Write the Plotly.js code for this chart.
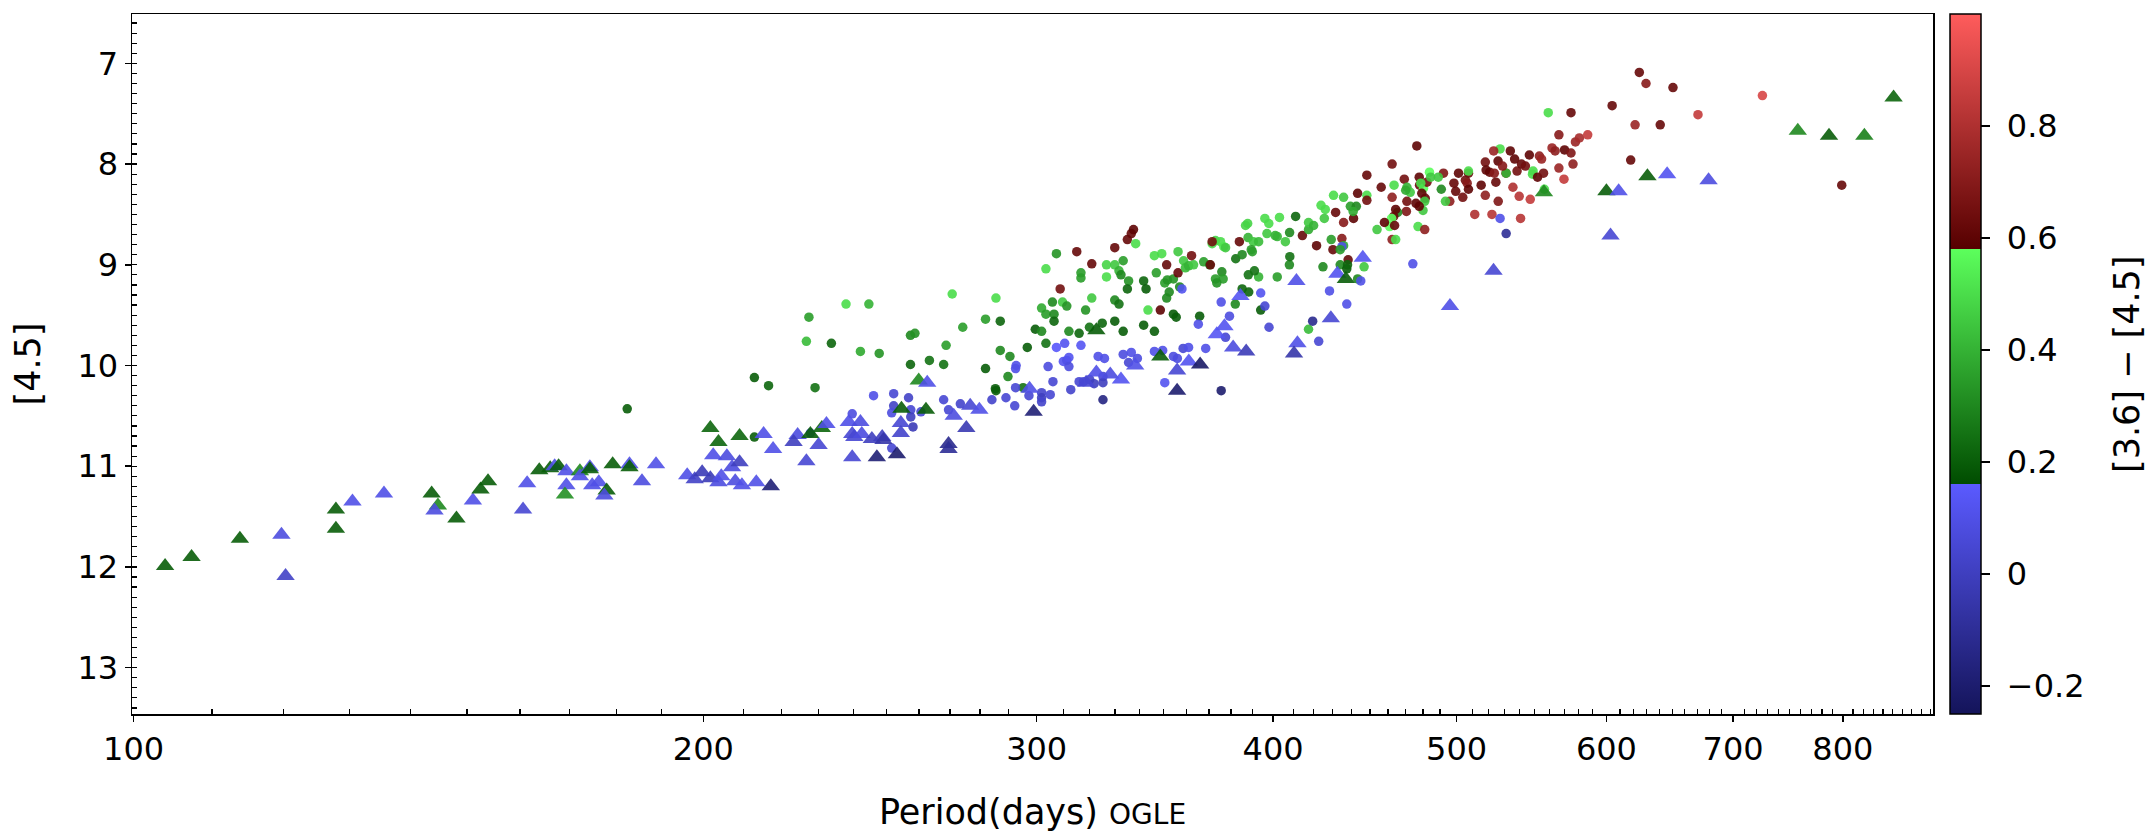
<!DOCTYPE html>
<html>
<head>
<meta charset="utf-8">
<script src="https://cdn.plot.ly/plotly-3.0.1.min.js"></script>
<style>
  html, body { margin: 0; padding: 0; background: #ffffff; }
  #chart { width: 2153px; height: 832px; }
</style>
</head>
<body>
<div id="chart"></div>
<script>
// Stars observed as circles: OGLE period (days), [4.5] magnitude, [3.6]-[4.5] colour
const periodCircle = [
  182.3, 212.8, 227.8, 239.7, 246.0, 252.1, 252.1, 251.5, 251.5,
  237.9, 244.6, 227.4, 226.7, 233.7, 242.1, 247.7, 212.8, 216.5, 229.1,
  270.7, 285.5, 281.9, 287.0, 274.2, 257.3, 258.7, 268.7, 257.3, 263.3,
  267.9, 287.0, 290.4, 296.6, 299.5, 301.8, 301.8, 303.4, 306.4, 306.4,
  305.8, 309.6, 311.2, 303.4, 307.3, 315.0, 308.7, 320.8, 303.4, 312.0,
  315.9, 316.6, 316.6, 320.8, 318.4, 319.9, 324.9, 326.6, 329.9, 326.6,
  331.6, 332.4, 333.3, 329.9, 335.0, 336.6, 337.5, 338.4, 335.5, 335.0,
  329.9, 331.6, 329.9, 333.3, 341.7, 342.7, 343.5, 348.7, 341.7, 346.2,
  347.0, 346.2, 349.3, 351.4, 350.6, 352.5, 351.4, 354.3, 355.5, 354.3,
  351.7, 356.3, 356.3, 281.9, 285.3, 285.5, 289.7, 295.1,
  256.7, 257.4, 257.4, 258.1, 260.6, 267.9, 269.5, 273.4, 284.1, 289.0,
  292.1, 292.4, 292.6, 292.4, 297.2, 301.8, 301.8, 301.8, 305.0, 304.2,
  306.0, 307.3, 310.4, 309.9, 311.2, 312.0, 312.0, 316.6, 312.7, 315.9,
  317.6, 320.0, 321.7, 325.2, 325.2, 325.8, 323.3, 325.2, 333.3, 335.5,
  336.6, 339.1, 346.2, 349.7, 350.6, 354.3, 356.0,
  358.7, 359.5, 360.9, 363.1, 362.2, 357.0, 358.0, 365.8, 365.2, 367.6,
  370.3, 370.6, 371.4, 372.9, 375.2, 376.7, 377.5, 371.4, 372.9, 375.8,
  376.4, 373.5, 375.5, 377.5, 379.3, 358.5, 360.9, 368.5, 375.5, 382.2,
  385.2, 387.8, 386.8, 383.9, 388.0, 390.5, 393.0, 389.5, 390.0, 396.0,
  397.9, 403.1, 397.0, 401.0, 402.0, 411.1, 408.1, 406.0, 414.5, 417.6,
  417.6, 420.2, 424.0, 426.2, 430.5, 435.8, 425.7, 431.6, 435.8, 434.9,
  441.1, 443.3, 421.7, 430.2, 429.3, 435.8, 438.2, 434.0, 437.5, 425.0,
  408.0, 408.2, 402.0, 393.0, 388.1, 391.0, 394.0, 394.0, 396.0, 398.0,
  382.0, 385.2, 388.3, 417.6, 419.7, 422.8, 428.4, 437.5, 434.9, 434.0,
  437.9, 443.3,
  439.4, 442.6, 440.9, 446.8, 445.0, 448.3, 448.3, 448.3, 456.2, 462.3,
  476.4, 463.4, 462.3, 469.2, 477.8, 483.8, 492.1, 470.7, 472.6, 470.0,
  478.0, 480.3, 482.3, 479.3, 481.3, 484.5, 489.0, 481.0, 480.0, 475.9,
  477.8, 470.7, 470.4, 465.4, 464.3, 463.2, 462.0, 460.9, 458.0, 463.7,
  453.9, 462.3, 464.3, 477.1, 481.0, 501.2, 507.3, 507.3, 498.4, 505.4,
  499.5, 506.5, 503.8, 507.3, 490.8, 495.9, 493.3, 515.2, 517.8, 520.5,
  518.3, 523.5, 524.5, 517.8, 511.2, 522.0, 527.2, 531.1, 526.0, 531.0,
  527.2, 531.1, 523.1, 525.9, 528.8, 533.8, 536.6, 538.2, 541.1, 543.7,
  546.3, 535.5, 539.6, 546.9, 540.5, 548.8, 548.4, 551.8, 555.8, 556.4,
  553.0, 554.5, 561.6, 563.7, 566.3, 566.3, 569.8, 570.2, 574.7, 576.1,
  577.8, 580.6, 586.5, 559.0, 574.7, 604.2, 474.1, 478.7,
  624.5, 629.6, 650.6, 621.3, 640.6, 670.7, 725.4, 618.0, 798.9
];
const magCircle = [
  10.43, 10.71, 10.67, 10.48, 10.30, 10.28, 10.40, 10.47, 10.82,
  9.39, 9.39, 9.52, 9.76, 9.78, 9.86, 9.88, 10.12, 10.20, 10.22,
  9.29, 9.33, 9.54, 9.56, 9.62, 9.70, 9.68, 9.80, 9.99, 9.95,
  9.99, 9.85, 9.91, 9.82, 9.64, 9.66, 9.43, 9.49, 9.49, 9.56,
  9.37, 9.37, 9.41, 9.04, 8.89, 8.87, 9.24, 8.99, 9.78, 9.66,
  9.68, 9.08, 9.13, 9.33, 9.45, 9.62, 9.58, 9.00, 9.00, 9.12,
  9.06, 9.10, 8.96, 8.83, 8.75, 8.69, 8.65, 8.79, 9.16, 9.24,
  9.35, 9.39, 9.56, 9.66, 9.16, 9.24, 9.45, 9.45, 9.60, 9.66,
  9.08, 8.91, 8.89, 9.00, 9.18, 9.27, 9.33, 9.49, 9.52, 9.14,
  9.15, 9.08, 8.87, 10.03, 10.23, 10.25, 10.11, 10.22,
  10.32, 10.44, 10.51, 10.61, 10.46, 10.34, 10.44, 10.38, 10.34, 10.32,
  10.40, 10.03, 10.00, 10.22, 10.30, 10.27, 10.32, 10.36, 10.29, 10.01,
  10.16, 9.82, 9.78, 9.96, 9.95, 9.92, 10.01, 9.80, 10.24, 10.16,
  10.16, 10.14, 10.18, 10.11, 10.17, 9.93, 9.91, 10.34, 9.89, 9.97,
  9.87, 9.93, 9.86, 9.85, 10.17, 9.91, 9.93,
  8.96, 9.03, 9.01, 9.00, 8.91, 9.22, 9.24, 9.51, 9.59, 8.97,
  9.00, 9.00, 8.79, 8.76, 8.77, 8.82, 8.83, 8.77, 9.14, 9.07,
  9.14, 9.18, 9.37, 9.72, 9.51, 9.83, 9.82, 9.83, 10.25, 8.94,
  8.90, 8.59, 8.61, 8.77, 8.73, 8.77, 8.77, 8.85, 8.87, 8.54,
  8.59, 8.53, 8.69, 8.71, 8.72, 8.52, 8.68, 8.77, 8.71, 8.65,
  8.58, 8.61, 8.41, 8.45, 8.31, 8.33, 8.54, 8.48, 8.58, 8.74,
  8.54, 8.29, 8.81, 8.85, 8.75, 8.81, 8.95, 9.00, 9.04, 9.02,
  9.00, 8.92, 9.12, 9.12, 9.10, 9.06, 9.45, 9.28, 9.41, 9.62,
  9.39, 9.24, 9.27, 9.64, 9.56, 9.76, 9.26, 9.39, 8.82, 8.85,
  9.00, 9.14,
  8.42, 8.42, 8.47, 9.02, 9.16, 8.31, 8.36, 8.11, 8.23, 8.00,
  7.82, 8.21, 8.33, 8.15, 8.13, 8.08, 8.09, 8.23, 8.28, 8.26,
  8.21, 8.24, 8.18, 8.29, 8.34, 8.13, 8.13, 8.37, 8.46, 8.39,
  8.42, 8.37, 8.47, 8.48, 8.45, 8.52, 8.54, 8.62, 8.58, 8.61,
  8.65, 8.75, 8.75, 8.62, 8.65, 8.09, 8.09, 8.07, 8.19, 8.16,
  8.27, 8.19, 8.33, 8.25, 8.25, 8.37, 8.37, 8.21, 7.98, 8.08,
  8.06, 8.09, 8.18, 8.31, 8.50, 8.50, 8.54, 8.69, 8.37, 8.09,
  7.85, 8.09, 7.87, 7.97, 8.02, 7.87, 7.95, 8.07, 8.00, 8.02,
  7.91, 8.23, 8.32, 8.35, 8.54, 8.07, 8.10, 8.13, 8.09, 8.25,
  7.92, 7.95, 7.84, 7.87, 7.71, 8.04, 8.15, 7.86, 7.89, 8.00,
  7.78, 7.74, 7.71, 7.49, 7.49, 7.42, 8.99, 8.19,
  7.09, 7.20, 7.24, 7.61, 7.61, 7.51, 7.32, 7.96, 8.21
];
const colorCircle = [
  0.20, 0.20, 0.08, 0.08, 0.10, 0.05, 0.02, 0.08, 0.05,
  0.50, 0.40, 0.35, 0.42, 0.22, 0.38, 0.33, 0.20, 0.22, 0.25,
  0.50, 0.50, 0.35, 0.22, 0.35, 0.30, 0.32, 0.35, 0.22, 0.25,
  0.25, 0.30, 0.30, 0.20, 0.20, 0.30, 0.38, 0.35, 0.30, 0.22,
  0.30, 0.45, 0.33, 0.50, 0.33, 0.62, 0.65, 0.62, 0.25, 0.30,
  0.22, 0.35, 0.35, 0.45, 0.33, 0.25, 0.22, 0.48, 0.45, 0.50,
  0.40, 0.30, 0.35, 0.62, 0.62, 0.62, 0.60, 0.50, 0.33, 0.22,
  0.30, 0.25, 0.20, 0.20, 0.22, 0.20, 0.50, 0.60, 0.20, 0.20,
  0.35, 0.50, 0.50, 0.62, 0.35, 0.30, 0.30, 0.20, 0.20, 0.33,
  0.33, 0.62, 0.45, 0.20, 0.20, 0.20, 0.30, 0.25,
  0.02, 0.05, 0.00, -0.02, 0.05, 0.05, 0.05, 0.03, 0.03, 0.05,
  0.05, 0.10, 0.10, 0.05, 0.05, 0.03, 0.00, 0.03, 0.05, 0.08,
  0.05, 0.15, 0.12, 0.12, 0.10, 0.12, 0.08, 0.13, 0.03, 0.05,
  0.05, 0.02, 0.00, 0.05, 0.00, 0.10, 0.10, -0.15, 0.08, 0.05,
  0.10, 0.08, 0.10, 0.10, 0.12, 0.08, 0.08,
  0.45, 0.42, 0.40, 0.45, 0.65, 0.30, 0.12, 0.20, 0.10, 0.35,
  0.30, 0.62, 0.50, 0.48, 0.50, 0.52, 0.45, 0.65, 0.35, 0.30,
  0.35, 0.33, 0.10, 0.05, 0.08, 0.05, 0.10, 0.10, -0.20, 0.25,
  0.30, 0.48, 0.48, 0.62, 0.40, 0.45, 0.42, 0.35, 0.35, 0.50,
  0.50, 0.50, 0.45, 0.40, 0.40, 0.22, 0.30, 0.45, 0.62, 0.38,
  0.45, 0.40, 0.50, 0.50, 0.50, 0.45, 0.45, 0.62, 0.70, 0.70,
  0.60, 0.60, 0.60, 0.62, 0.35, 0.38, 0.62, 0.30, 0.20, 0.30,
  0.30, 0.25, 0.35, 0.40, 0.25, 0.25, 0.20, 0.12, 0.05, 0.05,
  0.30, 0.22, 0.22, 0.42, -0.12, 0.05, 0.10, 0.10, 0.10, 0.35,
  0.22, 0.30,
  0.35, 0.30, 0.38, 0.45, 0.10, 0.50, 0.65, 0.62, 0.62, 0.65,
  0.60, 0.50, 0.72, 0.65, 0.60, 0.58, 0.68, 0.40, 0.45, 0.38,
  0.62, 0.58, 0.65, 0.60, 0.62, 0.45, 0.45, 0.45, 0.45, 0.60,
  0.60, 0.65, 0.68, 0.30, 0.60, 0.62, 0.58, 0.58, 0.60, 0.62,
  0.45, 0.72, 0.50, 0.50, 0.72, 0.60, 0.62, 0.50, 0.62, 0.65,
  0.62, 0.70, 0.65, 0.60, 0.30, 0.72, 0.45, 0.60, 0.65, 0.62,
  0.60, 0.70, 0.62, 0.72, 0.80, 0.82, 0.10, -0.10, 0.68, 0.72,
  0.50, 0.40, 0.75, 0.60, 0.70, 0.60, 0.60, 0.65, 0.62, 0.65,
  0.60, 0.80, 0.82, 0.85, 0.82, 0.50, 0.50, 0.60, 0.65, 0.50,
  0.72, 0.75, 0.75, 0.72, 0.70, 0.75, 0.85, 0.60, 0.68, 0.72,
  0.75, 0.78, 0.85, 0.50, 0.62, 0.62, 0.10, 0.50,
  0.62, 0.70, 0.62, 0.75, 0.62, 0.85, 0.90, 0.62, 0.62
];

// Stars observed as triangles
const periodTriangle = [
  103.9, 107.3, 113.8, 119.7, 120.3, 127.9, 127.9, 130.5, 135.6, 143.7,
  144.8, 144.2, 148.1, 151.1, 152.5, 153.9, 161.4, 160.6, 163.8, 166.0,
  166.9, 167.7, 169.3, 169.3, 169.0, 172.1, 172.1, 174.2, 174.2, 174.7,
  176.1, 177.8, 177.3, 179.1, 182.8, 182.8, 185.6, 188.8, 196.1, 197.9,
  199.7, 201.7, 203.7, 204.4, 202.4, 205.8, 207.1, 209.0, 207.9, 209.6,
  213.3, 217.1, 201.7, 203.7, 209.0, 215.2, 217.7, 224.3, 223.2, 227.8,
  230.1, 231.0, 232.3, 226.7, 238.7, 242.1, 239.7, 240.3, 242.5, 239.7,
  245.5, 248.6, 247.0, 253.1,
  254.5, 262.2, 254.3, 254.3, 249.0, 269.5, 269.5, 271.2, 276.7, 279.8,
  275.4, 259.9, 262.6, 297.4, 298.9, 318.6, 322.6, 328.1, 332.4, 338.2,
  322.6, 348.7, 355.9, 355.9,
  361.0, 366.0, 377.0, 373.5, 381.0, 387.1, 384.4, 411.5, 412.0, 410.3,
  429.1, 432.5, 437.0,
  446.1, 523.0, 496.0, 556.1, 600.0, 609.0, 603.0,
  630.7, 646.0, 679.4, 757.3, 786.6, 821.2, 850.9
];
const magTriangle = [
  11.99, 11.90, 11.72, 11.68, 12.09, 11.43, 11.62, 11.35, 11.27, 11.27,
  11.39, 11.44, 11.52, 11.34, 11.23, 11.15, 11.17, 11.43, 11.04, 11.02,
  11.00, 11.00, 11.05, 11.19, 11.28, 11.05, 11.10, 11.01, 11.03, 11.19,
  11.16, 11.24, 11.29, 10.98, 10.98, 11.01, 11.15, 10.98, 11.09, 11.13,
  11.06, 11.12, 11.16, 11.10, 10.89, 10.90, 11.01, 10.96, 11.15, 11.19,
  11.16, 11.20, 10.62, 10.76, 10.70, 10.68, 10.83, 10.69, 10.76, 10.68,
  10.79, 10.62, 10.58, 10.95, 10.56, 10.56, 10.68, 10.71, 10.68, 10.91,
  10.73, 10.71, 10.91, 10.88,
  10.43, 10.44, 10.57, 10.67, 10.74, 10.78, 10.83, 10.50, 10.40, 10.44,
  10.62, 10.15, 10.17, 10.23, 10.46, 10.17, 10.07, 10.09, 10.14, 10.00,
  9.65, 9.91, 10.25, 10.05,
  9.96, 9.99, 9.61, 9.69, 9.82, 9.86, 9.31, 9.16, 9.78, 9.88,
  9.53, 9.09, 9.14,
  8.93, 9.06, 9.41, 8.28, 8.27, 8.27, 8.71,
  8.12, 8.10, 8.16, 7.67, 7.72, 7.72, 7.34
];
const colorTriangle = [
  0.20, 0.20, 0.20, 0.08, 0.02, 0.20, 0.20, 0.10, 0.10, 0.20,
  0.30, 0.08, 0.20, 0.10, 0.20, 0.20, 0.10, 0.05, 0.20, 0.20,
  0.10, 0.20, 0.10, 0.10, 0.32, 0.30, 0.10, 0.10, 0.20, 0.10,
  0.10, 0.20, 0.08, 0.20, 0.10, 0.20, 0.08, 0.10, 0.10, 0.02,
  -0.02, -0.02, 0.08, 0.10, 0.10, 0.08, 0.08, 0.00, 0.08, 0.10,
  0.10, -0.18, 0.22, 0.22, 0.22, 0.10, 0.10, 0.08, 0.00, 0.20,
  0.05, 0.22, 0.10, 0.05, 0.10, 0.08, 0.05, 0.05, 0.08, 0.05,
  0.00, 0.00, -0.18, -0.20,
  0.20, 0.20, 0.05, 0.03, -0.05, -0.12, -0.10, 0.08, 0.05, 0.10,
  -0.03, 0.30, 0.10, 0.10, -0.18, 0.05, 0.10, 0.08, 0.12, 0.10,
  0.20, 0.20, -0.20, 0.05,
  0.12, -0.22, 0.12, 0.13, 0.08, -0.02, 0.13, 0.10, 0.10, -0.05,
  0.05, 0.12, 0.20,
  0.12, 0.05, 0.10, 0.30, 0.20, 0.10, 0.05,
  0.20, 0.12, 0.08, 0.30, 0.20, 0.28, 0.22
];

// Axis ticks
const xMajorTicks = [100, 200, 300, 400, 500, 600, 700, 800];
const xTickLabels = ['100', '200', '300', '400', '500', '600', '700', '800'];
const yMajorTicks = [7, 8, 9, 10, 11, 12, 13];
const cbarTicks = [-0.2, 0, 0.2, 0.4, 0.6, 0.8];
const cbarLabels = ['\u00a0\u22120.2', '\u00a00', '\u00a00.2', '\u00a00.4', '\u00a00.6', '\u00a00.8'];

const xMinorTicks = [];
for (let p = 110; p <= 890; p += 10) {
  if (p % 100 !== 0) xMinorTicks.push(p);
}

// Three colour families (blue / green / red), each a dark-to-light ramp
const cmin = -0.25, cmax = 1.0;
const edgeLow = (0.16 - cmin) / (cmax - cmin);
const edgeHigh = (0.58 - cmin) / (cmax - cmin);
const colorscale = [
  [0, '#14145a'],
  [edgeLow, '#5a5aff'],
  [edgeLow + 1e-4, '#004c00'],
  [edgeHigh, '#5cff5c'],
  [edgeHigh + 1e-4, '#560000'],
  [1, '#ff5c5c']
];

const FONT = 'DejaVu Sans, sans-serif';
const FS = 32;
const TITLE_FS = 35;
const BLACK = '#000000';

const traceCircle = {
  type: 'scatter', mode: 'markers',
  x: periodCircle, y: magCircle,
  marker: {
    symbol: 'circle', size: 9.5, opacity: 0.9,
    color: colorCircle, colorscale: colorscale, cmin: cmin, cmax: cmax,
    line: { width: 0 },
    showscale: true,
    colorbar: {
      x: (1950 - 132) / 1801, xanchor: 'left', xpad: 0,
      y: 0.5, yanchor: 'middle', ypad: 0,
      len: 700, lenmode: 'pixels',
      thickness: 31, thicknessmode: 'pixels',
      outlinewidth: 1.5, outlinecolor: BLACK,
      tickmode: 'array', tickvals: cbarTicks, ticktext: cbarLabels,
      ticks: 'outside', ticklen: 9, tickwidth: 1.5, tickcolor: BLACK,
      tickfont: { family: FONT, size: FS, color: BLACK },
      title: { text: '' }
    }
  },
  hoverinfo: 'x+y', showlegend: false
};

const traceTriangle = {
  type: 'scatter', mode: 'markers',
  x: periodTriangle, y: magTriangle,
  marker: {
    symbol: 'triangle-up', size: 16, opacity: 0.9,
    color: colorTriangle, colorscale: colorscale, cmin: cmin, cmax: cmax,
    line: { width: 0 }, showscale: false
  },
  hoverinfo: 'x+y', showlegend: false
};

const layout = {
  width: 2153, height: 832,
  margin: { l: 132, r: 220, t: 14, b: 118 },
  paper_bgcolor: '#ffffff', plot_bgcolor: '#ffffff',
  font: { family: FONT, size: FS, color: BLACK },
  xaxis: {
    type: 'log',
    range: [Math.log10(99.8), Math.log10(892.7)],
    tickmode: 'array', tickvals: xMajorTicks, ticktext: xTickLabels,
    ticks: 'outside', ticklen: 6, tickwidth: 1.5, tickcolor: BLACK,
    minor: { tickmode: 'array', tickvals: xMinorTicks, ticks: 'inside', ticklen: 5, tickwidth: 1.2, tickcolor: BLACK, showgrid: false },
    showline: true, linewidth: 1.5, linecolor: BLACK, mirror: true,
    showgrid: false, zeroline: false,
    tickfont: { family: FONT, size: FS, color: BLACK },
    title: { text: 'Period(days) <span style="font-size:28px">OGLE</span>', font: { family: FONT, size: TITLE_FS, color: BLACK }, standoff: 34 }
  },
  yaxis: {
    range: [13.46, 6.51],
    tickmode: 'array', tickvals: yMajorTicks,
    ticks: 'outside', ticklen: 6, tickwidth: 1.5, tickcolor: BLACK,
    minor: { dtick: 0.1, tick0: 0, ticks: 'inside', ticklen: 5, tickwidth: 1.2, tickcolor: BLACK, showgrid: false },
    showline: true, linewidth: 1.5, linecolor: BLACK, mirror: true,
    showgrid: false, zeroline: false,
    tickfont: { family: FONT, size: FS, color: BLACK },
    title: { text: '[4.5]', font: { family: FONT, size: TITLE_FS, color: BLACK }, standoff: 26 }
  },
  annotations: [{
    // colour-bar label, rotated to read upwards
    text: '[3.6] \u2212 [4.5]', textangle: -90,
    xref: 'paper', yref: 'paper', x: (2127 - 132) / 1801, y: 0.5,
    xanchor: 'center', yanchor: 'middle', showarrow: false,
    font: { family: FONT, size: TITLE_FS, color: BLACK }
  }]
};

Plotly.newPlot('chart', [traceCircle, traceTriangle], layout, { staticPlot: true, displayModeBar: false });
</script>
</body>
</html>
